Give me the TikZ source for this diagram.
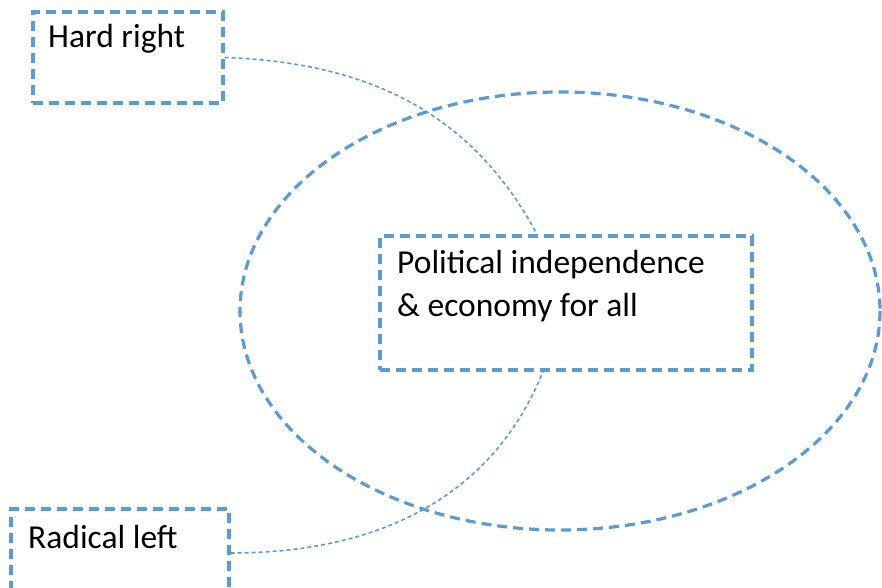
\documentclass[tikz,border=0pt]{standalone}
\usepackage{fontspec}
\setmainfont{Carlito}
\usepackage{tikz}
\usetikzlibrary{positioning}

\definecolor{boxblue}{RGB}{91,155,213}

\tikzset{
  box/.style={draw=boxblue, line width=3.2pt, dash pattern=on 10pt off 6pt, inner sep=0pt},
  link/.style={draw=boxblue, line width=1.6pt, dash pattern=on 4pt off 3pt},
  txt/.style={font=\fontsize{33.5}{43}\selectfont, anchor=base west, inner sep=0pt, align=left}
}

\begin{document}
\begin{tikzpicture}[x=1pt,y=-1pt]
\useasboundingbox (0,0) rectangle (882,588);

% the circle round the centre
\draw[box] (560,311) ellipse [x radius=320, y radius=219];

% boxes
\node[box, minimum width=190pt, minimum height=91pt] (hard) at (128,57.5) {};
\node[box, minimum width=372pt, minimum height=134pt] (pol) at (566,303) {};
\node[box, minimum width=218pt, minimum height=100pt] (rad) at (120,559) {};

% texts (base of a two line node is its last line)
\node[txt] (hardtxt) at (48,48) {Hard right};
\node[txt] (poltxt) at (397,316) {Political independence\\\& economy for all};
\node[txt] (radtxt) at (28,548) {Radical left};

% links
\draw[link] (hard.east) to[out=-2,in=118] ([xshift=-29pt]pol.north);
\draw[link] (rad.east |- 0,553) to[out=0,in=-112] ([xshift=-23pt]pol.south);
\end{tikzpicture}
\end{document}
